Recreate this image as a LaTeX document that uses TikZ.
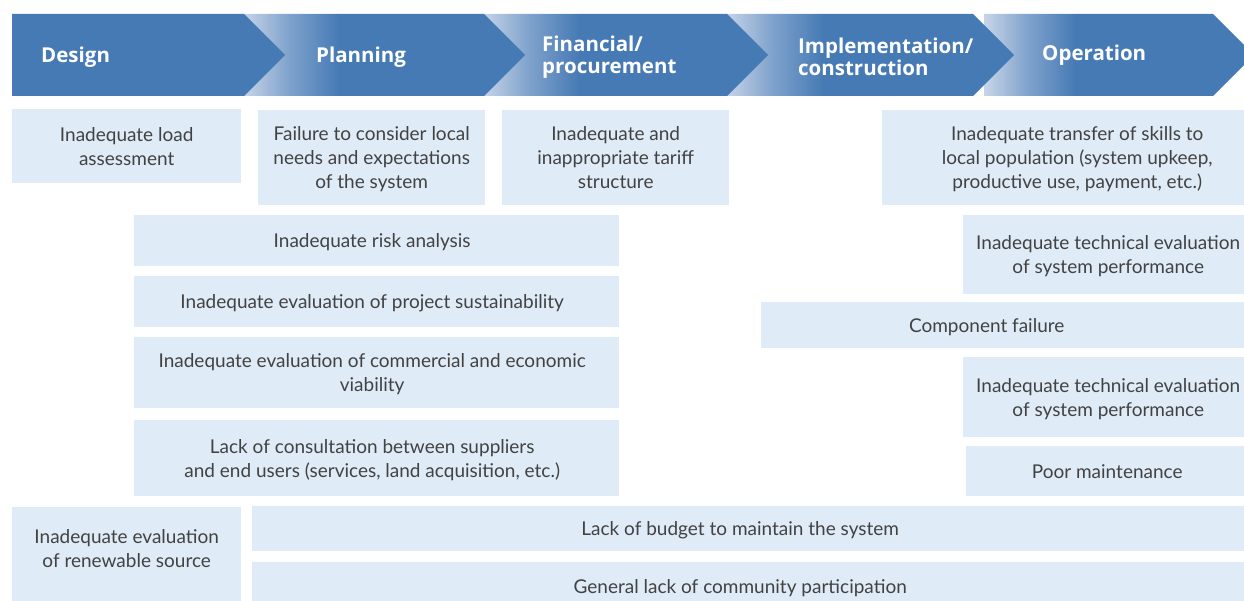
\documentclass[tikz,border=0pt]{standalone}
\usepackage{fontspec}
\setmainfont{Lato}
\newfontfamily\headfont{Open Sans}
\definecolor{chevblue}{RGB}{70,122,181}
\definecolor{chevlight}{RGB}{200,213,233}
\definecolor{boxfill}{RGB}{223,235,247}
\definecolor{txt}{RGB}{66,66,66}
\pgfdeclarehorizontalshading{chevshade}{100bp}{color(0bp)=(chevlight); color(25bp)=(chevlight); color(33bp)=(chevlight!45!chevblue); color(42bp)=(chevblue); color(100bp)=(chevblue)}
\tikzset{
  chevsolid/.style={fill=chevblue},
  chevgrad/.style={shading=chevshade},
  chevtext/.style={text=white, anchor=west, align=left, inner sep=0pt,
    font=\headfont\bfseries\fontsize{20.5}{22}\selectfont},
  cause/.style={fill=boxfill, text=txt, inner sep=0pt, align=center, anchor=north west,
    text depth=0pt, font=\fontsize{19}{24}\selectfont}
}
\begin{document}
\begin{tikzpicture}[x=1pt,y=-1pt]
\useasboundingbox (0,0) rectangle (1244,601);
\begin{scope}
\clip (0,0) rectangle (1244,601);
% chevrons, drawn right to left so that each tip lies over the next
\path[chevgrad] (984,14) -- (1213,14) -- (1254,55) -- (1213,96) -- (984,96) -- cycle;
\path[chevgrad] (725,14) -- (973,14) -- (1014,55) -- (973,96) -- (725,96) -- cycle;
\path[chevgrad] (482,14) -- (727,14) -- (768,55) -- (727,96) -- (482,96) -- cycle;
\path[chevgrad] (243,14) -- (484,14) -- (525,55) -- (484,96) -- (243,96) -- cycle;
\path[chevsolid] (12,14) -- (244,14) -- (285,55) -- (244,96) -- (12,96) -- cycle;
\node[chevtext] (design) at (41,57) {Design};
\node[chevtext] (planning) at (316,57) {Planning};
\node[chevtext] (financial) at (542,57) {Financial/\\procurement};
\node[chevtext] (implementation) at (798,57) {Implementation/\\construction};
\node[chevtext] (operation) at (1042,55) {Operation};

% first row
\node[cause, minimum width=229pt, minimum height=74pt] (load) at (12,109) {Inadequate load\\assessment};
\node[cause, minimum width=227pt, minimum height=95pt] (needs) at (258,110) {Failure to consider local\\needs and expectations\\of the system};
\node[cause, minimum width=227pt, minimum height=95pt] (tariff) at (502,110) {Inadequate and\\inappropriate tariff\\structure};
\node[cause, minimum width=390pt, minimum height=95pt] (skills) at (882,110) {Inadequate transfer of skills to\\local population (system upkeep,\\productive use, payment, etc.)};

% left column
\node[cause, minimum width=485pt, minimum height=51pt] (risk) at (134,215) {Inadequate risk analysis\kern9pt};
\node[cause, minimum width=485pt, minimum height=51pt] (sustain) at (134,276) {Inadequate evaluation of project sustainability\kern9pt};
\node[cause, minimum width=485pt, minimum height=71pt] (commercial) at (134,337) {Inadequate evaluation of commercial and economic\kern9pt\\viability\kern9pt};
\node[cause, minimum width=485pt, minimum height=76pt] (consult) at (134,420) {Lack of consultation between suppliers\kern9pt\\and end users (services, land acquisition, etc.)\kern9pt};

% right column
\node[cause, minimum width=290pt, minimum height=79pt] (tech1) at (963,215) {Inadequate technical evaluation\\of system performance};
\node[cause, minimum width=483pt, minimum height=46pt] (component) at (761,302) {Component failure\kern32pt};
\node[cause, minimum width=290pt, minimum height=80pt] (tech2) at (963,357) {Inadequate technical evaluation\\of system performance};
\node[cause, minimum width=282pt, minimum height=50pt] (maint) at (966,446) {Poor maintenance};

% bottom rows
\node[cause, minimum width=229pt, minimum height=82pt] (renew) at (12,507) {Inadequate evaluation\\of renewable source};
\fill[boxfill] (renew.south west) rectangle (241,612);
\node[cause, minimum width=992pt, minimum height=45pt] (budget) at (252,506) {Lack of budget to maintain the system\kern16pt};
\node[cause, minimum width=992pt, minimum height=48pt] (community) at (252,562) {General lack of community participation\kern16pt};
\end{scope}
\end{tikzpicture}
\end{document}
